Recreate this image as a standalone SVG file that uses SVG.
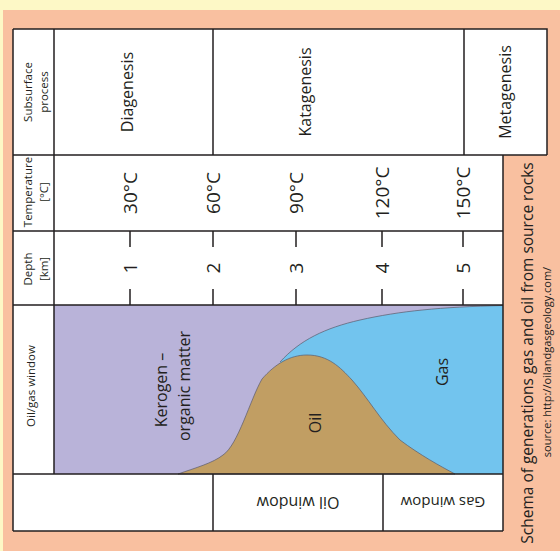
<svg xmlns="http://www.w3.org/2000/svg" width="560" height="551" viewBox="0 0 560 551">
<style>
.t{font-family:"Open Sans","Noto Sans",sans-serif;fill:#231f20;text-anchor:middle;dominant-baseline:central}
.s{font-size:11.5px}
.m{font-size:16px}
.l{font-size:19px}
.ln{stroke:#231f20;stroke-width:1.5;fill:none}
.cv{stroke:#5a5a6a;stroke-width:0.7}
</style>
<rect x="0" y="0" width="560" height="551" fill="#fdf8c6"/>
<rect x="3" y="10" width="557" height="541" fill="#f9c0a0"/>
<g id="table-bg">
<rect x="13" y="29" width="534" height="126" fill="#fff"/>
<rect x="13" y="155" width="490" height="376" fill="#fff"/>
</g>
<g id="window-area">
<rect x="54" y="305" width="449" height="169" fill="#b9b3d9"/>
<path d="M280,362 C300,340 325,328 360,320 C400,311 440,307 503,305.5 L503,474 L300,474 Z" fill="#72c4ee"/>
<path class="cv" d="M280,362 C300,340 325,328 360,320 C400,311 440,307 503,305.5" fill="none"/>
<path class="cv" d="M178,474 C195,468 213,463 223,455 C238,445 250,400 262,379 C275,364 290,355 307,355 C328,355 340,367 352,380 C368,398 380,420 400,440 C420,455 440,466 455,474 Z" fill="#c19e63"/>
</g>
<g id="connectors">
<path class="ln" d="M13,29 H547 V155 M13,155 H547 M13,231 H503 M13,305 H503 M13,474 H503 M13,531 H503 M13,29 V531 M54,29 V474 M213,29 V155 M464,29 V155 M503,155 V531 M213,474 V531 M383,474 V531"/>
<path class="ln" d="M130,231 V247 M213,231 V247 M296,231 V247 M382,231 V247 M463,231 V247 M130,289 V305 M213,289 V305 M296,289 V305 M382,289 V305 M463,289 V305"/>
</g>
<g id="subsurface-header">
<text class="t s" transform="translate(27,92) rotate(-90)">Subsurface</text>
<text class="t s" transform="translate(43,92) rotate(-90)">process</text>
</g>
<g id="diagenesis"><text class="t m" transform="translate(127,92) rotate(-90)">Diagenesis</text></g>
<g id="katagenesis"><text class="t m" transform="translate(305,92) rotate(-90)">Katagenesis</text></g>
<g id="metagenesis"><text class="t m" transform="translate(505,92) rotate(-90)">Metagenesis</text></g>
<g id="temperature-header">
<text class="t s" transform="translate(27,192) rotate(-90)">Temperature</text>
<text class="t s" transform="translate(43,192) rotate(-90)">[°C]</text>
</g>
<g id="temperatures">
<text class="t l" transform="translate(130,193) rotate(-90)">30°C</text>
<text class="t l" transform="translate(213,193) rotate(-90)">60°C</text>
<text class="t l" transform="translate(296,193) rotate(-90)">90°C</text>
<text class="t l" transform="translate(382,193) rotate(-90)">120°C</text>
<text class="t l" transform="translate(463,193) rotate(-90)">150°C</text>
</g>
<g id="depth-header">
<text class="t s" transform="translate(27,269) rotate(-90)">Depth</text>
<text class="t s" transform="translate(43,269) rotate(-90)">[km]</text>
</g>
<g id="depths">
<text class="t l" transform="translate(130,268) rotate(-90)">1</text>
<text class="t l" transform="translate(213,268) rotate(-90)">2</text>
<text class="t l" transform="translate(296,268) rotate(-90)">3</text>
<text class="t l" transform="translate(382,268) rotate(-90)">4</text>
<text class="t l" transform="translate(463,268) rotate(-90)">5</text>
</g>
<g id="oilgas-header"><text class="t" style="font-size:11.5px" transform="translate(30,386) rotate(-90)">Oil/gas window</text></g>
<g id="kerogen">
<text class="t" style="font-size:16px" transform="translate(161,390) rotate(-90)">Kerogen –</text>
<text class="t" style="font-size:16px" transform="translate(184,386) rotate(-90)">organic matter</text>
</g>
<g id="oil"><text class="t" style="font-size:16px" transform="translate(315,423) rotate(-90)">Oil</text></g>
<g id="gas"><text class="t" style="font-size:16px" transform="translate(442,372) rotate(-90)">Gas</text></g>
<g id="oil-window"><text class="t" style="font-size:16px" transform="translate(298,503) rotate(180)">Oil window</text></g>
<g id="gas-window"><text class="t" style="font-size:15px" transform="translate(443,503) rotate(180)">Gas window</text></g>
<g id="caption">
<text class="t" style="font-size:15.5px" transform="translate(527,353) rotate(-90)">Schema of generations gas and oil from source rocks</text>
<text class="t" style="font-size:11px" transform="translate(546,362) rotate(-90)">source:  http://oilandgasgeology.com/</text>
</g>
</svg>
